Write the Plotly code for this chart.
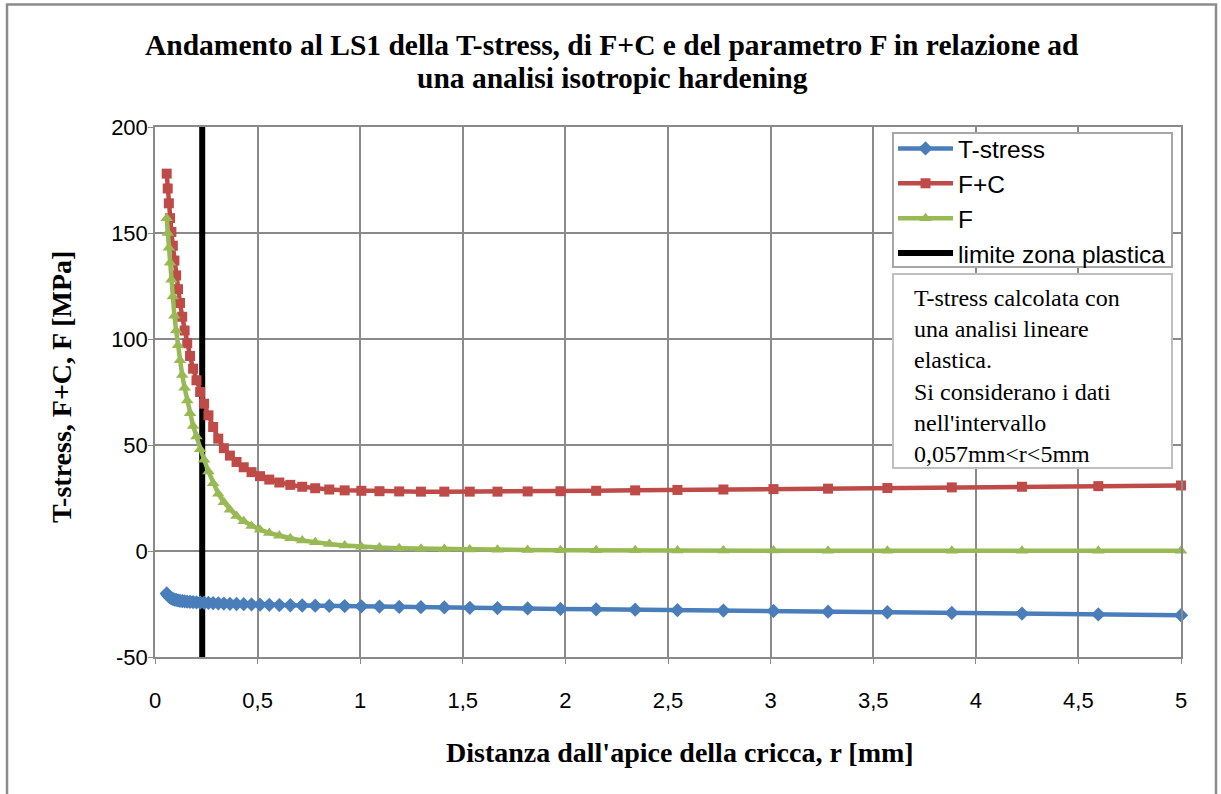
import plotly.graph_objects as go

# Distance from the crack tip r [mm] (nodes along the ligament)
r_mm = [0.057, 0.062, 0.0675, 0.0734, 0.0799, 0.0869, 0.0946, 0.1029, 0.112, 0.1218,
        0.1326, 0.1443, 0.157, 0.1708, 0.1858, 0.2022, 0.22, 0.2394, 0.2605, 0.2834,
        0.3084, 0.3356, 0.3651, 0.3973, 0.4323, 0.4704, 0.5118, 0.5569, 0.606, 0.6594,
        0.7175, 0.7807, 0.8494, 0.9243, 1.0057, 1.094, 1.19, 1.296, 1.41, 1.534,
        1.669, 1.816, 1.976, 2.15, 2.34, 2.546, 2.77, 3.014, 3.28, 3.569,
        3.883, 4.225, 4.597, 5.0]

t_stress = [-20, -20.8, -21.4, -21.9, -22.3, -22.6, -22.9, -23.1, -23.3, -23.5,
            -23.6, -23.8, -23.9, -24.0, -24.1, -24.2, -24.3, -24.4, -24.5, -24.6,
            -24.7, -24.8, -24.9, -25.0, -25.1, -25.2, -25.3, -25.4, -25.5, -25.6,
            -25.7, -25.8, -25.9, -26.0, -26.1, -26.2, -26.4, -26.5, -26.6, -26.8,
            -26.9, -27.1, -27.3, -27.5, -27.7, -27.9, -28.1, -28.3, -28.6, -28.9,
            -29.2, -29.5, -29.9, -30.3]

f_plus_c = [178, 171, 164, 157, 150.5, 144, 137, 130, 123.5, 117,
            110.5, 104, 98, 92, 86, 80.5, 75, 69.5, 64, 58.5,
            53, 48.5, 45, 42, 39.5, 37.2, 35.3, 33.7, 32.3, 31.2,
            30.3, 29.6, 29.0, 28.6, 28.4, 28.2, 28.1, 28.0, 28.0, 28.0,
            28.0, 28.1, 28.2, 28.4, 28.6, 28.8, 29.0, 29.2, 29.4, 29.7,
            30.0, 30.3, 30.6, 30.9]

f_param = [157, 150, 143, 136, 128, 120, 111, 104, 97, 90,
           83, 77, 71, 65, 59, 54, 48, 43, 37.5, 32,
           27, 23, 19.5, 16.5, 14, 11.8, 10, 8.5, 7.2, 6.0,
           5.0, 4.1, 3.3, 2.6, 2.0, 1.6, 1.3, 1.1, 0.9, 0.7,
           0.6, 0.5, 0.4, 0.3, 0.3, 0.2, 0.2, 0.2, 0.1, 0.1,
           0.1, 0.1, 0.1, 0.1]

# Plastic zone boundary
r_plastic = [0.23, 0.23]
y_plastic = [-50, 200]

x_ticks = [0, 0.5, 1, 1.5, 2, 2.5, 3, 3.5, 4, 4.5, 5]
x_tick_text = ["0", "0,5", "1", "1,5", "2", "2,5", "3", "3,5", "4", "4,5", "5"]
y_ticks = [-50, 0, 50, 100, 150, 200]
y_tick_text = ["-50", "0", "50", "100", "150", "200"]

SERIF = "Liberation Serif, Times New Roman, serif"
SANS = "Liberation Sans, Arial, sans-serif"
GRID = "#8a8a8a"

fig = go.Figure()

fig.add_trace(go.Scatter(
    x=r_plastic, y=y_plastic, name="limite zona plastica", mode="lines",
    line=dict(color="black", width=6), legendrank=4, cliponaxis=False))

fig.add_trace(go.Scatter(
    x=r_mm, y=t_stress, name="T-stress", mode="lines+markers",
    line=dict(color="#4A7EBB", width=4.5),
    marker=dict(symbol="diamond", size=11, color="#4A7EBB"),
    legendrank=1, cliponaxis=False))

fig.add_trace(go.Scatter(
    x=r_mm, y=f_plus_c, name="F+C", mode="lines+markers",
    line=dict(color="#BE4B48", width=4.5),
    marker=dict(symbol="square", size=10, color="#BE4B48"),
    legendrank=2, cliponaxis=False))

fig.add_trace(go.Scatter(
    x=r_mm, y=f_param, name="F", mode="lines+markers",
    line=dict(color="#98B954", width=4.5),
    marker=dict(symbol="triangle-up", size=11, color="#98B954"),
    legendrank=3, cliponaxis=False))

L, R, T, B = 155, 40, 127, 137
W, H = 1221, 794
pw, ph = W - L - R, H - T - B


def px(xp):
    return (xp - L) / pw


def py(yp):
    return (H - B - yp) / ph


fig.update_layout(
    width=W, height=H,
    margin=dict(l=L, r=R, t=T, b=B),
    paper_bgcolor="white", plot_bgcolor="white",
    showlegend=True,
    legend=dict(
        x=px(893), y=py(126), xanchor="left", yanchor="top",
        font=dict(family=SANS, size=24.5, color="black"),
        borderwidth=0, bgcolor="rgba(0,0,0,0)",
        itemwidth=55, tracegroupgap=0,
    ),
    xaxis=dict(
        range=[0, 5], tickvals=x_ticks, ticktext=x_tick_text,
        showgrid=True, gridcolor=GRID, gridwidth=1.5,
        showline=True, linecolor=GRID, linewidth=1.5, mirror=True,
        ticks="outside", ticklen=5, tickcolor=GRID,
        zeroline=False, ticklabelstandoff=18,
        tickfont=dict(family=SANS, size=22, color="black"),
    ),
    yaxis=dict(
        range=[-50, 200], tickvals=y_ticks, ticktext=y_tick_text,
        showgrid=True, gridcolor=GRID, gridwidth=1.5,
        showline=True, linecolor=GRID, linewidth=1.5, mirror=True,
        ticks="outside", ticklen=5, tickcolor=GRID,
        zeroline=False, ticklabelstandoff=-4,
        tickfont=dict(family=SANS, size=22, color="black"),
    ),
)

# Chart frame, legend frame and the note box
fig.add_shape(type="rect", xref="paper", yref="paper",
              x0=px(7), x1=px(1216), y0=py(796), y1=py(4.5),
              line=dict(color="#8c8c8c", width=2.5), layer="below")
fig.add_shape(type="rect", xref="paper", yref="paper",
              x0=px(893), x1=px(1172), y0=py(267), y1=py(133),
              line=dict(color="#a6a6a6", width=2), fillcolor="white", layer="above")
fig.add_shape(type="rect", xref="paper", yref="paper",
              x0=px(893), x1=px(1172), y0=py(468), y1=py(274),
              line=dict(color="#bfbfbf", width=2), fillcolor="white", layer="above")

fig.add_annotation(
    xref="paper", yref="paper", x=px(912), y=py(283), xanchor="left", yanchor="top",
    align="left", showarrow=False,
    text=("T-stress calcolata con<br>una analisi lineare<br>elastica.<br>"
          "Si considerano i dati<br>nell'intervallo<br>0,057mm&lt;r&lt;5mm"),
    font=dict(family=SERIF, size=24, color="black"))

title_lines = ["Andamento al LS1 della T-stress, di F+C e del parametro F in relazione ad",
               "una analisi isotropic hardening"]
for line_text, y_line in zip(title_lines, [45, 78]):
    fig.add_annotation(
        xref="paper", yref="paper", x=px(612), y=py(y_line), xanchor="center",
        yanchor="middle", showarrow=False, text="<b>" + line_text + "</b>",
        font=dict(family=SERIF, size=29.5, color="black"))

fig.add_annotation(
    xref="paper", yref="paper", x=px(680), y=py(752), xanchor="center", yanchor="middle",
    showarrow=False, text="<b>Distanza dall'apice della cricca, r [mm]</b>",
    font=dict(family=SERIF, size=28, color="black"))

fig.add_annotation(
    xref="paper", yref="paper", x=px(61), y=py(387), xanchor="center", yanchor="middle",
    showarrow=False, textangle=-90, text="<b>T-stress, F+C, F [MPa]</b>",
    font=dict(family=SERIF, size=28, color="black"))

fig.write_html("out.html")
